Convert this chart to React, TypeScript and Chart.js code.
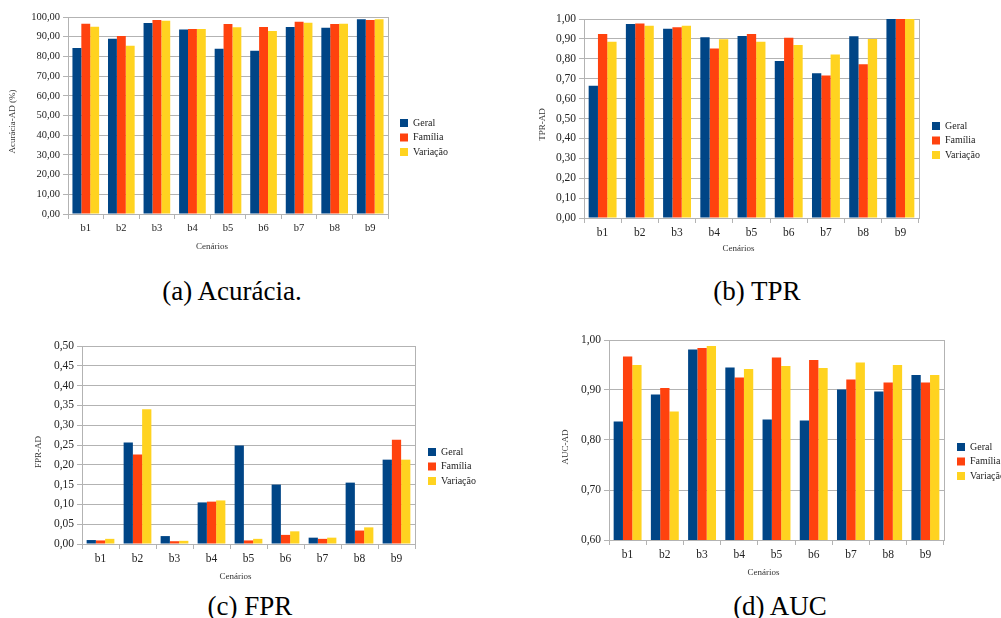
import React, { useEffect, useRef } from "react";
import { Chart, registerables } from "chart.js";

Chart.register(...registerables);

const categories = ["b1", "b2", "b3", "b4", "b5", "b6", "b7", "b8", "b9"];
const seriesNames = ["Geral", "Família", "Variação"];
const seriesColors = ["#004586", "#ff420e", "#ffd320"];

const accGeral = [84.3, 89.0, 97.0, 93.7, 83.9, 82.9, 94.9, 94.6, 98.8];
const accFamilia = [96.6, 90.4, 98.5, 93.9, 96.4, 94.9, 97.6, 96.4, 98.5];
const accVariacao = [95.1, 85.4, 98.1, 93.9, 94.8, 92.9, 97.1, 96.6, 98.8];

const tprGeral = [0.664, 0.975, 0.951, 0.908, 0.914, 0.789, 0.728, 0.913, 1.0];
const tprFamilia = [0.924, 0.978, 0.958, 0.852, 0.924, 0.906, 0.716, 0.772, 1.0];
const tprVariacao = [0.886, 0.966, 0.966, 0.898, 0.886, 0.869, 0.822, 0.899, 1.0];

const fprGeral = [0.01, 0.256, 0.02, 0.105, 0.249, 0.15, 0.016, 0.155, 0.213];
const fprFamilia = [0.009, 0.226, 0.007, 0.107, 0.009, 0.023, 0.013, 0.034, 0.263];
const fprVariacao = [0.013, 0.34, 0.008, 0.11, 0.013, 0.032, 0.016, 0.042, 0.213];

const aucGeral = [0.837, 0.891, 0.981, 0.945, 0.841, 0.839, 0.901, 0.897, 0.93];
const aucFamilia = [0.967, 0.904, 0.984, 0.925, 0.965, 0.96, 0.921, 0.915, 0.915];
const aucVariacao = [0.95, 0.857, 0.988, 0.942, 0.948, 0.944, 0.955, 0.95, 0.93];

const xAxisTitle = "Cenários";
const captions = ["(a) Acurácia.", "(b) TPR", "(c) FPR", "(d) AUC"];

const FONT = '"Liberation Serif", "Times New Roman", serif';
const GRID = "#b3b3b3";
const LEGW = 30;
const TITLE_LH = 9 * 1.2;

type Panel = {
  values: number[][];
  yTitle: string;
  min: number;
  max: number;
  step: number;
  box: { x: number; y: number; w: number; h: number };
  area: { L: number; R: number; T: number; B: number };
  yTitleX: number;
  yTitleDy: number;
  xTitleY: number;
  xTitleDx: number;
  legend: { x: number; y: number };
  tickSize: number;
};

const panels: Panel[] = [
  {
    values: [accGeral, accFamilia, accVariacao],
    yTitle: "Acurácia-AD (%)",
    min: 0, max: 100, step: 10,
    box: { x: 0, y: 0, w: 500, h: 265 },
    area: { L: 68, R: 388, T: 17, B: 214 },
    yTitleX: 13, yTitleDy: 6, xTitleY: 247, xTitleDx: -16,
    legend: { x: 400, y: 119 },
    tickSize: 10.5,
  },
  {
    values: [tprGeral, tprFamilia, tprVariacao],
    yTitle: "TPR-AD",
    min: 0, max: 1, step: 0.1,
    box: { x: 500, y: 0, w: 501, h: 265 },
    area: { L: 584, R: 919, T: 19, B: 218 },
    yTitleX: 543, yTitleDy: 6, xTitleY: 249, xTitleDx: -13,
    legend: { x: 932, y: 122 },
    tickSize: 11.5,
  },
  {
    values: [fprGeral, fprFamilia, fprVariacao],
    yTitle: "FPR-AD",
    min: 0, max: 0.5, step: 0.05,
    box: { x: 0, y: 320, w: 500, h: 270 },
    area: { L: 82, R: 415, T: 346, B: 544 },
    yTitleX: 39, yTitleDy: 7, xTitleY: 577, xTitleDx: -13,
    legend: { x: 428, y: 448 },
    tickSize: 11.5,
  },
  {
    values: [aucGeral, aucFamilia, aucVariacao],
    yTitle: "AUC-AD",
    min: 0.6, max: 1.0, step: 0.1,
    box: { x: 500, y: 320, w: 501, h: 270 },
    area: { L: 609, R: 944, T: 340, B: 540 },
    yTitleX: 566, yTitleDy: 7, xTitleY: 573, xTitleDx: -13,
    legend: { x: 957, y: 443 },
    tickSize: 11.5,
  },
];

const fmt = (v: number | string) => Number(v).toFixed(2).replace(".", ",");

function wrapTitle(scale: any, dx: number, dy: number) {
  if (!scale || scale.__wrapped) return;
  const orig = scale.drawTitle;
  scale.drawTitle = function (...args: any[]) {
    const ctx = this.ctx;
    ctx.save();
    ctx.translate(dx, dy);
    orig.apply(this, args);
    ctx.restore();
  };
  scale.__wrapped = true;
}

function ChartPanel({ p }: { p: Panel }) {
  const ref = useRef<HTMLCanvasElement | null>(null);
  useEffect(() => {
    const canvas = ref.current;
    if (!canvas) return;
    const { box, area } = p;
    const L = area.L - box.x;
    const R = area.R - box.x;
    const T = area.T - box.y;
    const B = area.B - box.y;
    const xh = p.xTitleY - area.B + TITLE_LH / 2;
    const legPad = 4.5;
    const legLocalX = p.legend.x - box.x;
    const legLocalY = p.legend.y - box.y - 1;

    const helper = {
      id: "panelHelper",
      afterLayout(chart: any) {
        const lg = chart.legend;
        if (lg) {
          lg.left = legLocalX - legPad;
          lg.right = lg.left + 110;
          lg.top = legLocalY - legPad;
          lg.bottom = lg.top + 200;
        }
        wrapTitle(chart.scales.x, p.xTitleDx, 0);
        wrapTitle(chart.scales.y, 0, p.yTitleDy);
      },
      beforeDatasetsDraw(chart: any) {
        const { ctx, chartArea } = chart;
        ctx.save();
        ctx.strokeStyle = GRID;
        ctx.lineWidth = 1;
        ctx.strokeRect(
          Math.round(chartArea.left) + 0.5,
          Math.round(chartArea.top) + 0.5,
          Math.round(chartArea.right - chartArea.left),
          Math.round(chartArea.bottom - chartArea.top)
        );
        ctx.restore();
      },
    };

    const chart = new Chart(canvas, {
      type: "bar",
      data: {
        labels: categories,
        datasets: seriesNames.map((name, i) => ({
          label: name,
          data: p.values[i],
          backgroundColor: seriesColors[i],
          borderWidth: 0,
          categoryPercentage: 0.75,
          barPercentage: 1.0,
        })),
      },
      options: {
        responsive: false,
        animation: false,
        devicePixelRatio: 1,
        layout: {
          autoPadding: false,
          padding: {
            top: T,
            left: 0,
            right: box.w - R - LEGW,
            bottom: box.h - B - xh,
          },
        },
        plugins: {
          tooltip: { enabled: false },
          legend: {
            position: "right",
            align: "start",
            maxWidth: LEGW,
            labels: {
              font: { family: FONT, size: 10 },
              color: "#222",
              boxWidth: 8,
              boxHeight: 8,
              padding: legPad,
            },
          },
        },
        scales: {
          x: {
            grid: {
              display: true,
              drawOnChartArea: false,
              offset: true,
              tickLength: 5,
              color: GRID,
            },
            border: { display: true, color: GRID },
            ticks: {
              font: { family: FONT, size: p.tickSize },
              color: "#222",
              padding: 3,
              maxRotation: 0,
            },
            title: {
              display: true,
              text: xAxisTitle,
              font: { family: FONT, size: 9 },
              color: "#333",
              padding: 0,
            },
            afterFit: (s: any) => {
              s.height = xh;
            },
          },
          y: {
            min: p.min,
            max: p.max,
            ticks: {
              stepSize: p.step,
              callback: (v: any) => fmt(v),
              font: { family: FONT, size: p.tickSize },
              color: "#222",
              padding: 3,
            },
            grid: { color: GRID, tickLength: 5 },
            border: { display: true, color: GRID },
            title: {
              display: true,
              text: p.yTitle,
              font: { family: FONT, size: 9 },
              color: "#333",
              padding: { top: p.yTitleX - box.x - TITLE_LH / 2, bottom: 0 },
            },
            afterFit: (s: any) => {
              s.width = L;
            },
          },
        },
      },
      plugins: [helper],
    } as any);
    return () => chart.destroy();
  }, [p]);

  return (
    <canvas
      ref={ref}
      width={p.box.w}
      height={p.box.h}
      style={{
        position: "absolute",
        left: p.box.x,
        top: p.box.y,
        width: p.box.w,
        height: p.box.h,
        display: "block",
      }}
    />
  );
}

const captionPos = [
  { x: 232, y: 291 },
  { x: 757, y: 291 },
  { x: 250, y: 606 },
  { x: 780, y: 606 },
];

export default function App() {
  return (
    <div
      style={{
        position: "absolute",
        left: 0,
        top: 0,
        width: 1001,
        height: 618,
        overflow: "hidden",
        background: "#fff",
      }}
    >
      {panels.map((p, i) => (
        <ChartPanel key={i} p={p} />
      ))}
      {captions.map((c, i) => (
        <div
          key={c}
          style={{
            position: "absolute",
            left: captionPos[i].x - 150,
            top: captionPos[i].y - 15,
            width: 300,
            height: 30,
            lineHeight: "30px",
            textAlign: "center",
            fontFamily: FONT,
            fontSize: 27,
            color: "#000",
            whiteSpace: "nowrap",
          }}
        >
          {c}
        </div>
      ))}
    </div>
  );
}
